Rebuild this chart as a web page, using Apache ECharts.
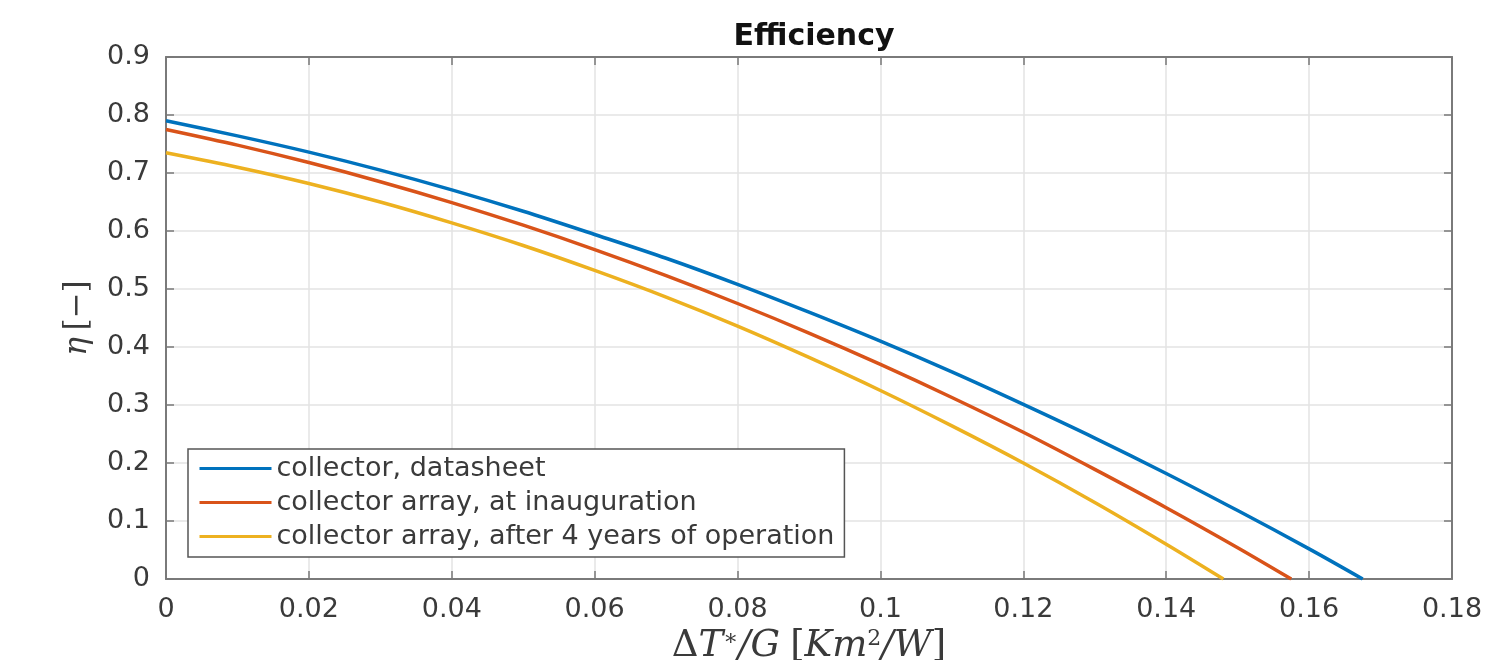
<!DOCTYPE html>
<html>
<head>
<meta charset="utf-8">
<script src="https://cdn.jsdelivr.net/npm/echarts@6/dist/echarts.min.js"></script>
<style>
  html, body { margin: 0; padding: 0; background: #fff; }
  #chart { width: 1501px; height: 660px; }
</style>
</head>
<body>
<div id="chart"></div>
<script>
// Efficiency curves (x = dT*/G, y = eta).
var seriesNames = [
    'collector, datasheet',
    'collector array, at inauguration',
    'collector array, after 4 years of operation'
];
var xDatasheet = [0, 0.01, 0.02, 0.03, 0.04, 0.05, 0.06, 0.07, 0.08, 0.09, 0.10, 0.11, 0.12, 0.13, 0.14, 0.15, 0.16, 0.1675];
var yDatasheet = [0.790, 0.764, 0.736, 0.705, 0.671, 0.634, 0.594, 0.553, 0.508, 0.460, 0.410, 0.357, 0.301, 0.243, 0.182, 0.118, 0.052, 0];
var xInaug = [0, 0.01, 0.02, 0.03, 0.04, 0.05, 0.06, 0.07, 0.08, 0.09, 0.10, 0.11, 0.12, 0.13, 0.14, 0.15, 0.1575];
var yInaug = [0.775, 0.748, 0.718, 0.685, 0.649, 0.610, 0.568, 0.523, 0.475, 0.424, 0.370, 0.313, 0.253, 0.189, 0.123, 0.054, 0];
var xAfter4 = [0, 0.01, 0.02, 0.03, 0.04, 0.05, 0.06, 0.07, 0.08, 0.09, 0.10, 0.11, 0.12, 0.13, 0.14, 0.148];
var yAfter4 = [0.735, 0.710, 0.682, 0.650, 0.614, 0.575, 0.532, 0.486, 0.436, 0.382, 0.325, 0.264, 0.200, 0.132, 0.060, 0];
var colors = ['#0072BD', '#D95319', '#EDB120'];

function pairs(xs, ys) {
    var out = [];
    for (var i = 0; i < xs.length; i++) out.push([xs[i], ys[i]]);
    return out;
}

var AXIS = '#7a7a7a';
var TXT = '#3a3a3a';
var SANS = '"DejaVu Sans", sans-serif';
var SERIF = '"DejaVu Serif", "Liberation Serif", serif';

// top/right copies of the axes, only to close the box with inward ticks
function boxAxis(pos, min, max, step) {
    return {
        type: 'value', position: pos, min: min, max: max, interval: step,
        axisLine: { show: true, onZero: false, lineStyle: { color: AXIS, width: 2 } },
        axisTick: { show: true, inside: true, length: 8, lineStyle: { color: AXIS, width: 1.5 } },
        axisLabel: { show: false },
        splitLine: { show: false }
    };
}

var chart = echarts.init(document.getElementById('chart'), null, { renderer: 'canvas' });

var data = [pairs(xDatasheet, yDatasheet), pairs(xInaug, yInaug), pairs(xAfter4, yAfter4)];
var series = [];
for (var i = 0; i < data.length; i++) {
    series.push({
        name: seriesNames[i],
        type: 'line',
        data: data[i],
        symbol: 'none',
        smooth: 0.3,
        xAxisIndex: 0,
        yAxisIndex: 0,
        lineStyle: { color: colors[i], width: 3.5 },
        itemStyle: { color: colors[i] }
    });
}

chart.setOption({
    animation: false,
    backgroundColor: '#fff',
    title: {
        text: 'Efficiency',
        left: 809, top: 17, textAlign: 'center',
        textStyle: { fontFamily: SANS, fontSize: 30, fontWeight: 'bold', color: '#111' }
    },
    grid: {
        left: 166, top: 57, width: 1286, height: 522,
        containLabel: false, outerBoundsMode: 'none'
    },
    legend: {
        orient: 'vertical',
        left: 188, top: 449,
        padding: [6, 10, 7, 10],
        itemGap: 7,
        itemWidth: 72, itemHeight: 22,
        backgroundColor: '#fff',
        borderColor: '#555', borderWidth: 1.5,
        itemStyle: { opacity: 0 },
        lineStyle: { width: 3 },
        textStyle: { fontFamily: SANS, fontSize: 27, color: TXT },
        data: seriesNames
    },
    xAxis: [{
        type: 'value', position: 'bottom', min: 0, max: 0.18, interval: 0.02,
        name: '{g|Δ}{i|T}{s|∗}{i|/G}   {n|[}{i|Km}{s|2}{i|/W}{n|]}',
        nameLocation: 'middle', nameGap: 41,
        nameTextStyle: {
            rich: {
                g: { fontFamily: SERIF, fontSize: 37, color: TXT },
                n: { fontFamily: SERIF, fontSize: 37, color: TXT },
                i: { fontFamily: SERIF, fontSize: 37, fontStyle: 'italic', color: TXT },
                s: { fontFamily: SERIF, fontSize: 22, color: TXT, verticalAlign: 'top', padding: [0, 0, 15, 0] }
            }
        },
        axisLine: { show: true, onZero: false, lineStyle: { color: AXIS, width: 2 } },
        axisTick: { show: true, inside: true, length: 8, lineStyle: { color: AXIS, width: 1.5 } },
        axisLabel: { fontFamily: SANS, fontSize: 27, color: TXT, margin: 17 },
        splitLine: { show: true, lineStyle: { color: '#e3e3e3', width: 1.5 } }
    }, boxAxis('top', 0, 0.18, 0.02)],
    yAxis: [{
        type: 'value', position: 'left', min: 0, max: 0.9, interval: 0.1,
        name: '{i|η}  {n|[−]}',
        nameLocation: 'middle', nameGap: 73, nameRotate: 90,
        nameTextStyle: {
            rich: {
                i: { fontFamily: SERIF, fontSize: 31, fontStyle: 'italic', color: TXT },
                n: { fontFamily: SERIF, fontSize: 31, color: TXT }
            }
        },
        axisLine: { show: true, onZero: false, lineStyle: { color: AXIS, width: 2 } },
        axisTick: { show: true, inside: true, length: 8, lineStyle: { color: AXIS, width: 1.5 } },
        axisLabel: { fontFamily: SANS, fontSize: 27, color: TXT, margin: 16 },
        splitLine: { show: true, lineStyle: { color: '#e3e3e3', width: 1.5 } }
    }, boxAxis('right', 0, 0.9, 0.1)],
    series: series
});
</script>
</body>
</html>
